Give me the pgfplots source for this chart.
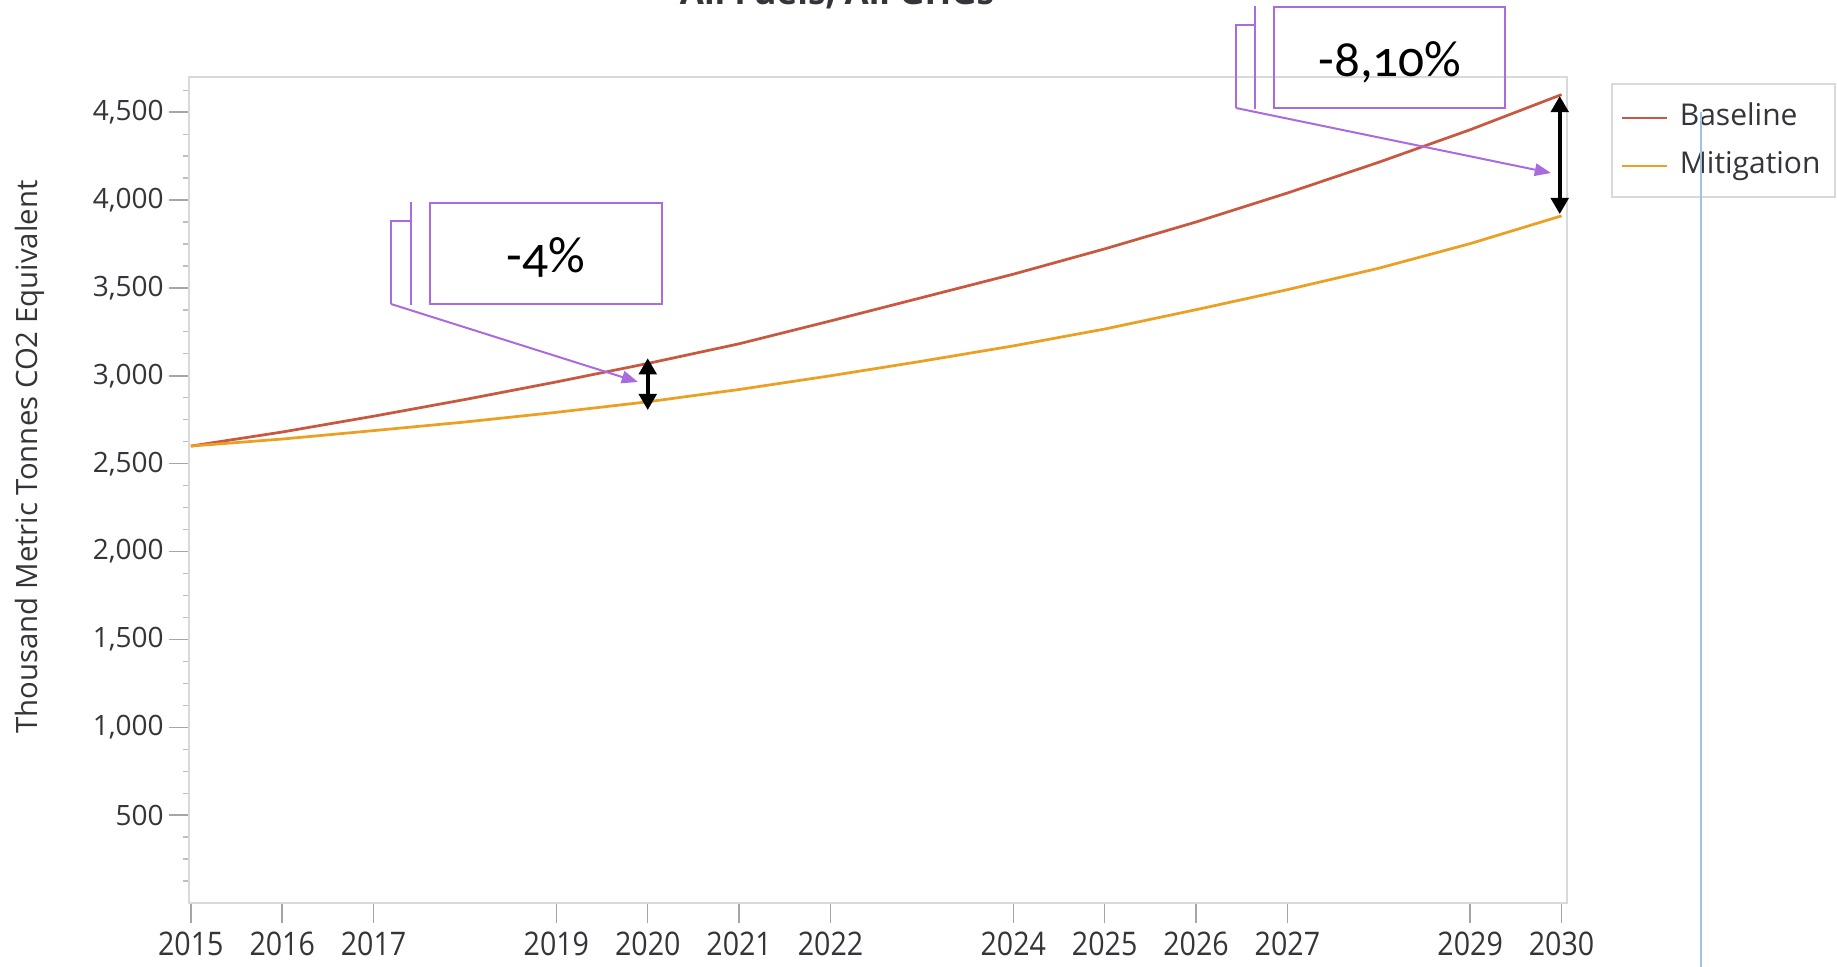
\documentclass[border=0pt]{standalone}
\usepackage{pgfplots}
\pgfplotsset{compat=1.18}
\usepackage{fontspec}
\setmainfont{Open Sans}
\newfontfamily\calloutfont[Numbers=OldStyle]{Carlito}
\newfontfamily\xtickfont[FakeStretch=0.88]{Open Sans}
\usetikzlibrary{arrows.meta}
\definecolor{axisgray}{RGB}{217,217,217}
\definecolor{tickgray}{RGB}{165,165,165}
\definecolor{minorgray}{RGB}{190,190,190}
\definecolor{labelcol}{RGB}{52,52,58}
\definecolor{basecol}{RGB}{201,88,64}
\definecolor{mitcol}{RGB}{236,160,35}
\definecolor{purp}{RGB}{168,107,224}
\definecolor{bluel}{RGB}{157,195,230}

\pgfplotstableread{
year baseline mitigation
2015 2600 2600
2016 2680 2640
2017 2770 2688
2018 2865 2737
2019 2965 2792
2020 3070 2852
2021 3182 2922
2022 3312 3000
2023 3445 3083
2024 3578 3170
2025 3722 3266
2026 3875 3376
2027 4040 3490
2028 4215 3612
2029 4400 3752
2030 4600 3910
}\datatable

\begin{document}
\begin{tikzpicture}
\begin{axis}[
  at={(75.6pt,-361.2pt)}, anchor=south west,
  scale only axis, width=551.2pt, height=330.4pt,
  xmin=2014.98, xmax=2030.06, ymin=0, ymax=4700,
  axis line style={draw=axisgray, line width=0.7pt},
  tick align=outside, xtick pos=bottom, ytick pos=left,
  xtick={2015,2016,2017,2019,2020,2021,2022,2024,2025,2026,2027,2029,2030},
  xticklabels={2015,2016,2017,2019,2020,2021,2022,2024,2025,2026,2027,2029,2030},
  ytick={500,1000,...,4500},
  minor ytick={125,250,...,4625},
  major tick length=8pt, minor tick length=2.4pt,
  major tick style={draw=tickgray, line width=0.6pt},
  minor tick style={draw=minorgray, line width=0.5pt},
  y tick label style={font=\fontsize{11.2}{13}\selectfont, text=labelcol, xshift=1.4pt,
     /pgf/number format/assume math mode=true, /pgf/number format/1000 sep={,}},
  x tick label style={font=\xtickfont\fontsize{13}{15}\selectfont, text=labelcol},
  ylabel={Thousand Metric Tonnes CO2 Equivalent},
  ylabel style={at={(axis description cs:-0.1154,0.54)}, anchor=center,
     font=\fontsize{11.75}{13}\selectfont, text=labelcol},
  clip=false,
  legend cell align=left,
  legend style={at={(axis description cs:1.0392,0.9213)}, anchor=west,
     draw=none, fill=none, inner sep=0pt, outer sep=0pt,
     row sep=8.2pt, column sep=4.4pt,
     font=\fontsize{12}{14}\selectfont, text=labelcol,
     nodes={inner sep=0pt, text height=8.5pt, text depth=2.5pt}},
  legend image code/.code={\draw[#1] (0pt,0pt) -- (18pt,0pt);},
]
\addplot[basecol, line width=1.1pt] table[x=year, y=baseline] {\datatable};
\addlegendentry{Baseline}
\addplot[mitcol, line width=1.1pt] table[x=year, y=mitigation] {\datatable};
\addlegendentry{Mitigation}
\draw[black, line width=1.6pt, {Triangle[length=6.5pt,width=7pt]}-{Triangle[length=6.5pt,width=7pt]}]
  (axis cs:2020,3100) -- (axis cs:2020,2805);
\draw[black, line width=1.6pt, {Triangle[length=6.5pt,width=7pt]}-{Triangle[length=6.5pt,width=7pt]}]
  (axis cs:2029.98,4592) -- (axis cs:2029.98,3920);
\end{axis}
\begin{scope}[x=0.4pt, y=-0.4pt]
  % legend frame
  \draw[axisgray, line width=0.7pt] (1612,84) rectangle (1835,197);
  % title (cut off at top)
  \node[anchor=base, font=\bfseries\fontsize{14}{16}\selectfont, text=labelcol, inner sep=0pt] at (837,4.5) {All Fuels, All GHGs};
  % callout 1
  \draw[purp, line width=0.8pt] (430,203) rectangle (662,304);
  \draw[purp, line width=0.8pt] (411,202) -- (411,305);
  \draw[purp, line width=0.8pt] (411,221) -- (391,221) -- (391,304);
  \draw[purp, line width=0.8pt, -{Triangle[length=6.5pt,width=5pt]}] (391,304) -- (638,382);
  \node[anchor=base, inner sep=0pt, font=\calloutfont\fontsize{20.5}{24}\selectfont] at (546,272) {-4\%};
  % callout 2
  \draw[purp, line width=0.8pt] (1274,7) rectangle (1505,108);
  \draw[purp, line width=0.8pt] (1255,6) -- (1255,109);
  \draw[purp, line width=0.8pt] (1255,25) -- (1236,25) -- (1236,108);
  \draw[purp, line width=0.8pt, -{Triangle[length=6.5pt,width=5pt]}] (1236,108) -- (1551,173);
  \node[anchor=base, inner sep=0pt, font=\calloutfont\fontsize{20.5}{24}\selectfont] at (1390,77) {-8,10\%};
  % thin blue line
  \draw[bluel, line width=0.6pt] (1701,112) -- (1701,970);
  \pgfresetboundingbox
  \useasboundingbox (0,0) rectangle (1837,966);
\end{scope}
\end{tikzpicture}
\end{document}
